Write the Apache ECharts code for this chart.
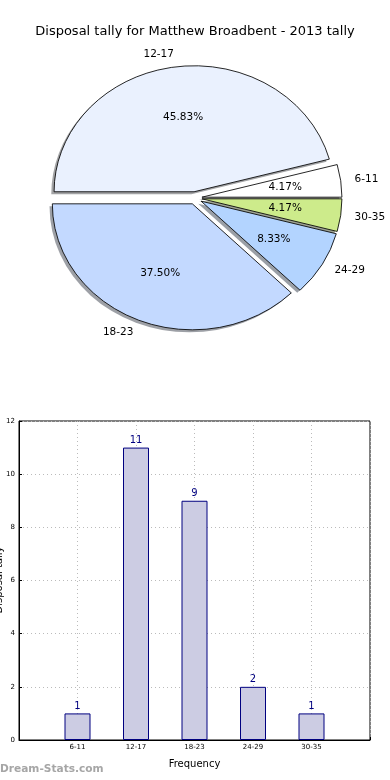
<!DOCTYPE html>
<html>
<head>
<meta charset="utf-8">
<script src="https://cdn.jsdelivr.net/npm/echarts@6/dist/echarts.min.js"></script>
<style>
html,body{margin:0;padding:0;background:#fff;}
#chart{width:390px;height:780px;}
</style>
</head>
<body>
<div id="chart"></div>
<script>
// ---- data ----
var titleText = 'Disposal tally for Matthew Broadbent - 2013 tally';
var pieLabels = ['6-11', '12-17', '18-23', '24-29', '30-35'];
var pieValues = [1, 11, 9, 2, 1];
var pieColors = ['#ffffff', '#eaf1fe', '#c3d9ff', '#b3d4ff', '#cdeb8b'];
var barCategories = ['6-11', '12-17', '18-23', '24-29', '30-35'];
var barValues = [1, 11, 9, 2, 1];
var yTicks = [0, 2, 4, 6, 8, 10, 12];
var xAxisName = 'Frequency';
var yAxisName = 'Disposal tally';
var watermark = 'Dream-Stats.com';

// ---- pie geometry (matplotlib-style elliptical pie) ----
var FONT = 'DejaVu Sans';
var PIE_CX = 195, PIE_CY = 198, RX = 140, RY = 126;
var EXPLODE = 0.05, LABEL_DIST = 1.1, PCT_DIST = 0.6;
var total = pieValues.reduce(function (a, b) { return a + b; }, 0);

function shade(hex) {
  var n = parseInt(hex.slice(1), 16);
  var r = Math.round(((n >> 16) & 255) * 0.3), g = Math.round(((n >> 8) & 255) * 0.3), b = Math.round((n & 255) * 0.3);
  return 'rgba(' + r + ',' + g + ',' + b + ',0.5)';
}

function renderPie(params, api) {
  var i = params.dataIndex;
  var before = 0;
  for (var k = 0; k < i; k++) before += pieValues[k];
  var v = api.value(0);
  var t1 = before / total * 2 * Math.PI;
  var t2 = (before + v) / total * 2 * Math.PI;
  var tm = (t1 + t2) / 2;
  var ox = EXPLODE * Math.cos(tm) * RY, oy = -EXPLODE * Math.sin(tm) * RY;
  var sx = RX / RY;
  var shape = { cx: ox, cy: oy, r: RY, r0: 0, startAngle: -t1, endAngle: -t2, clockwise: false };
  var shadowShape = { cx: ox - 0.02 * RY, cy: oy + 0.02 * RY, r: RY, r0: 0, startAngle: -t1, endAngle: -t2, clockwise: false };
  var c = Math.cos(tm), s = Math.sin(tm);
  var lx = PIE_CX + RX * (EXPLODE + LABEL_DIST) * c;
  var ly = PIE_CY - RY * (EXPLODE + LABEL_DIST) * s;
  var px = PIE_CX + RX * (EXPLODE + PCT_DIST) * c;
  var py = PIE_CY - RY * (EXPLODE + PCT_DIST) * s;
  return {
    type: 'group',
    children: [
      { type: 'sector', x: PIE_CX, y: PIE_CY, scaleX: sx, scaleY: 1, z2: 1, shape: shadowShape,
        style: { fill: shade(pieColors[i]), stroke: null } },
      { type: 'sector', x: PIE_CX, y: PIE_CY, scaleX: sx, scaleY: 1, z2: 10, shape: shape,
        style: { fill: pieColors[i], stroke: '#000', lineWidth: 0.8, strokeNoScale: true } },
      { type: 'text', x: lx, y: ly, z2: 20,
        style: { text: pieLabels[i], fill: '#000', font: '10.5px "' + FONT + '"', align: c > 0 ? 'left' : 'right', verticalAlign: 'middle' } },
      { type: 'text', x: px, y: py, z2: 20,
        style: { text: (v / total * 100).toFixed(2) + '%', fill: '#000', font: '10.5px "' + FONT + '"', align: 'center', verticalAlign: 'middle' } }
    ]
  };
}

var chart = echarts.init(document.getElementById('chart'), null, { renderer: 'canvas' });
var option = {
  animation: false,
  backgroundColor: '#fff',
  textStyle: { fontFamily: FONT },
  title: {
    text: titleText, left: 'center', top: 20,
    textStyle: { fontFamily: FONT, fontSize: 13, fontWeight: 'normal', color: '#000' }
  },
  graphic: [
    { type: 'text', left: 0, top: 764, style: { text: watermark, fill: '#a6a6a6', font: 'bold 10.6px "' + FONT + '"' } },
    { type: 'text', x: 4, y: 580, rotation: Math.PI / 2,
      style: { text: yAxisName, fill: '#000', font: '10px "' + FONT + '"', align: 'center', verticalAlign: 'bottom' } }
  ],
  grid: { left: 19, right: 20, top: 421, bottom: 40, show: true, borderColor: '#000', borderWidth: 1,
    backgroundColor: 'transparent', containLabel: false, outerBoundsMode: 'none' },
  xAxis: {
    type: 'value', min: 0, max: 6, interval: 1,
    name: xAxisName, nameLocation: 'middle', nameGap: 19,
    nameTextStyle: { fontFamily: FONT, fontSize: 10, color: '#000' },
    axisLine: { show: true, lineStyle: { color: '#000', width: 1 } },
    axisTick: { show: true, inside: true, length: 3, lineStyle: { color: '#000' } },
    axisLabel: { fontSize: 7, color: '#000', margin: 4, fontFamily: FONT,
      formatter: function (v) { return barCategories[v - 1] || ''; } },
    splitLine: { show: true, lineStyle: { color: '#bbb', type: [1, 3], width: 1 } }
  },
  yAxis: {
    type: 'value', min: yTicks[0], max: yTicks[yTicks.length - 1], interval: yTicks[1] - yTicks[0],
    axisLine: { show: true, lineStyle: { color: '#000', width: 1 } },
    axisTick: { show: true, inside: true, length: 3, lineStyle: { color: '#000' } },
    axisLabel: { fontSize: 7, color: '#000', margin: 4, fontFamily: FONT },
    splitLine: { show: true, lineStyle: { color: '#bbb', type: [1, 3], width: 1 } }
  },
  series: [
    {
      type: 'custom', coordinateSystem: 'none', renderItem: renderPie,
      data: pieValues.map(function (v) { return [v]; }), silent: true
    },
    {
      type: 'bar', barWidth: 26,
      data: barValues.map(function (v, i) { return [i + 1, v]; }),
      itemStyle: { color: '#cccce3', borderColor: '#000080', borderWidth: 1 },
      label: { show: true, position: 'top', distance: 2, color: '#000080', fontSize: 10, fontFamily: FONT,
        formatter: function (p) { return p.value[1]; } }
    }
  ]
};
chart.setOption(option);
</script>
</body>
</html>
